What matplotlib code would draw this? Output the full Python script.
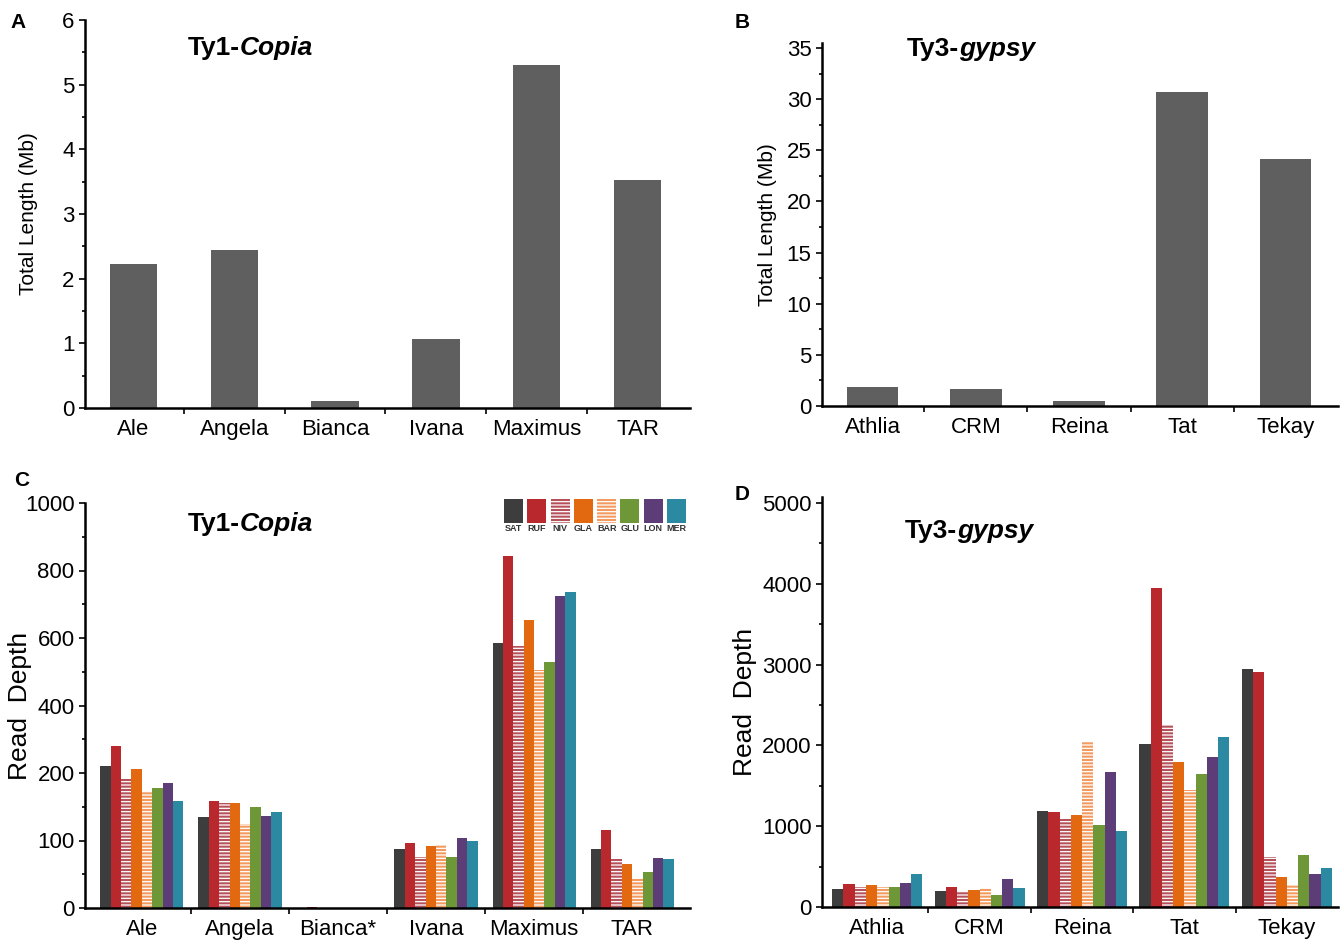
import numpy as np
import matplotlib
matplotlib.use("Agg")
import matplotlib.pyplot as plt
from matplotlib.ticker import FixedLocator, NullFormatter

plt.rcParams['font.family'] = ['Liberation Sans', 'DejaVu Sans']
plt.rcParams['hatch.linewidth'] = 0.9

# panel A / B: total length (Mb)
copia_names = ["Ale", "Angela", "Bianca", "Ivana", "Maximus", "TAR"]
copia_length = [2.23, 2.45, 0.11, 1.06, 5.31, 3.53]
gypsy_names = ["Athlia", "CRM", "Reina", "Tat", "Tekay"]
gypsy_length = [1.9, 1.7, 0.45, 30.7, 24.2]

# panel C / D: read depth per species
species = ["SAT", "RUF", "NIV", "GLA", "BAR", "GLU", "LON", "MER"]
copia_groups = ["Ale", "Angela", "Bianca*", "Ivana", "Maximus", "TAR"]
copia_depth = {
    "SAT": [222, 135, 0, 87, 584, 88],
    "RUF": [280, 159, 2, 97, 844, 115],
    "NIV": [191, 155, 0, 76, 576, 73],
    "GLA": [211, 156, 0, 92, 652, 65],
    "BAR": [174, 125, 0, 93, 506, 45],
    "GLU": [178, 149, 0, 75, 529, 53],
    "LON": [185, 136, 0, 104, 724, 74],
    "MER": [159, 142, 0, 99, 736, 73],
}
gypsy_groups = ["Athlia", "CRM", "Reina", "Tat", "Tekay"]
gypsy_depth = {
    "SAT": [220, 192, 1184, 2020, 2947],
    "RUF": [282, 253, 1180, 3943, 2906],
    "NIV": [245, 200, 1090, 2253, 620],
    "GLA": [273, 212, 1143, 1792, 376],
    "BAR": [245, 233, 2041, 1445, 273],
    "GLU": [253, 151, 1016, 1645, 649],
    "LON": [302, 343, 1669, 1857, 404],
    "MER": [408, 233, 935, 2110, 478],
}

# uneven y-axis of panel C
c_ticks = [0, 100, 200, 400, 600, 800, 1000]

colors = {"SAT": "#3d3d3d", "RUF": "#b8282d", "NIV": "#b5515a", "GLA": "#e2690f",
          "BAR": "#f29a60", "GLU": "#6e9838", "LON": "#5c3d78", "MER": "#2b8aa2"}
striped = {"NIV", "BAR"}

W, H = 1340, 942


def px_axes(x0, y0, x1, y1):
    return fig.add_axes([x0 / W, 1 - y1 / H, (x1 - x0) / W, (y1 - y0) / H])


def style(ax, n):
    for s in ["top", "right"]:
        ax.spines[s].set_visible(False)
    for s in ["left", "bottom"]:
        ax.spines[s].set_linewidth(1.8)
    ax.set_xticks(np.arange(n))
    ax.xaxis.set_minor_locator(FixedLocator(np.arange(n - 1) + 0.5))
    ax.tick_params(axis="x", which="major", length=0, labelsize=16, pad=8)
    ax.tick_params(axis="x", which="minor", length=4, width=1.2, direction="out")
    ax.tick_params(axis="y", which="both", direction="out", width=1.2)
    ax.tick_params(axis="y", which="major", length=4, labelsize=16)
    ax.tick_params(axis="y", which="minor", length=2.5)


def title(ax, plain, ital, x, y):
    t = ax.text(x, y, plain, transform=ax.transAxes, fontsize=19, fontweight="bold",
                ha="left", va="baseline")
    ax.annotate(ital, xy=(1, 0), xycoords=t, fontsize=19, fontweight="bold",
                fontstyle="italic", ha="left", va="bottom")


def grouped(ax, groups, depth, width):
    x = np.arange(len(groups))
    for i, sp in enumerate(species):
        off = (i - 3.5) * width
        if sp in striped:
            ax.bar(x + off, depth[sp], width, color=colors[sp], edgecolor="white",
                   linewidth=0, hatch="-----")
        else:
            ax.bar(x + off, depth[sp], width, color=colors[sp], linewidth=0)


fig = plt.figure(figsize=(13.4, 9.42), dpi=100)

# A
axA = px_axes(85, 20, 690, 408)
axA.bar(np.arange(len(copia_names)), copia_length, 0.47, color="#5f5f5f", linewidth=0)
axA.set_xticklabels(copia_names)
axA.set_xlim(-0.48, 5.52)
axA.set_ylim(0, 6)
axA.set_yticks(range(7))
axA.yaxis.set_minor_locator(FixedLocator(np.arange(0.5, 6, 1)))
style(axA, len(copia_names))
axA.set_ylabel("Total Length (Mb)", fontsize=15)
axA.yaxis.set_label_coords(-0.078, 0.5)
title(axA, "Ty1-", "Copia", 0.17, 0.91)

# B
axB = px_axes(822, 43, 1338, 406)
axB.bar(np.arange(len(gypsy_names)), gypsy_length, 0.5, color="#5f5f5f", linewidth=0)
axB.set_xticklabels(gypsy_names)
axB.set_xlim(-0.49, 4.51)
axB.set_ylim(0, 35.5)
axB.set_yticks(range(0, 36, 5))
axB.yaxis.set_minor_locator(FixedLocator(np.arange(2.5, 35, 5)))
style(axB, len(gypsy_names))
axB.set_ylabel("Total Length (Mb)", fontsize=15)
axB.yaxis.set_label_coords(-0.087, 0.5)
title(axB, "Ty3-", "gypsy", 0.165, 0.965)

# C
axC = px_axes(85, 503, 690, 908)
idx = np.arange(len(c_ticks))
fwd = lambda v: np.interp(v, c_ticks, idx)
inv = lambda u: np.interp(u, idx, c_ticks)
axC.set_yscale("function", functions=(fwd, inv))
grouped(axC, copia_groups, copia_depth, 0.106)
axC.set_xticklabels(copia_groups)
axC.set_xlim(-0.58, 5.59)
axC.set_ylim(0, 1036)
axC.set_yticks(c_ticks)
axC.set_yticklabels([str(v) for v in c_ticks])
axC.yaxis.set_minor_locator(FixedLocator(inv(np.arange(0.5, 6, 1))))
axC.yaxis.set_minor_formatter(NullFormatter())
style(axC, len(copia_groups))
axC.set_ylabel("Read  Depth", fontsize=19)
axC.yaxis.set_label_coords(-0.088, 0.5)
title(axC, "Ty1-", "Copia", 0.17, 0.93)

# legend strip for C
axL = px_axes(502, 498, 688, 536)
for i, sp in enumerate(species):
    if sp in striped:
        axL.bar(i, 1, 0.82, bottom=0.55, color=colors[sp], edgecolor="white",
                linewidth=0, hatch="-----")
    else:
        axL.bar(i, 1, 0.82, bottom=0.55, color=colors[sp], linewidth=0)
    axL.text(i, 0.3, sp, ha="center", va="center", fontsize=6.5, fontweight="bold",
             color="#333333")
axL.set_xlim(-0.5, 7.5)
axL.set_ylim(0, 1.6)
axL.axis("off")

# D
axD = px_axes(822, 497, 1338, 907)
grouped(axD, gypsy_groups, gypsy_depth, 0.11)
axD.set_xticklabels(gypsy_groups)
axD.set_xlim(-0.54, 4.5)
axD.set_ylim(0, 5074)
axD.set_yticks(range(0, 5001, 1000))
axD.yaxis.set_minor_locator(FixedLocator(np.arange(500, 5000, 1000)))
style(axD, len(gypsy_groups))
axD.set_ylabel("Read  Depth", fontsize=19)
axD.yaxis.set_label_coords(-0.126, 0.5)
title(axD, "Ty3-", "gypsy", 0.16, 0.9)

# panel letters
for letter, x, y in [("A", 18, 22), ("B", 742, 22), ("C", 22, 480), ("D", 742, 494)]:
    fig.text(x / W, 1 - y / H, letter, fontsize=15, fontweight="bold", ha="center", va="center")

fig.savefig("out.png", dpi=100)
